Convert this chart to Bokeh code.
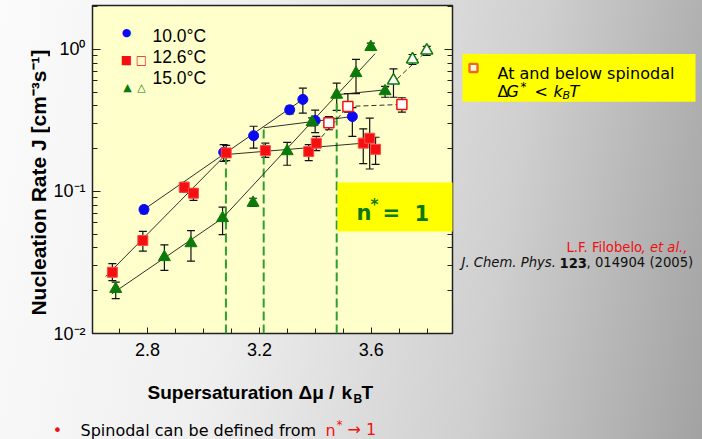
import math
from bokeh.plotting import figure
from bokeh.layouts import row, column
from bokeh.models import (Range1d, FixedTicker, LogAxis, Whisker, TeeHead,
                          ColumnDataSource, Label, BoxAnnotation)
from bokeh.embed import file_html
from bokeh.resources import INLINE

# ---------------- data ----------------
# 10.0 C  (blue circles)
b_x = [2.787, 3.072, 3.179, 3.308, 3.355, 3.399, 3.532]
b_J = [0.0747, 0.189, 0.247, 0.376, 0.445, 0.316, 0.337]
b_up = [0.0787, 0.214, 0.288, 0.399, 0.534, 0.374, 0.39]
b_lo = [0.0697, 0.163, 0.202, 0.352, 0.356, 0.26, 0.244]

# 12.6 C  (red squares, filled)
r_x = [2.674, 2.783, 2.931, 2.964, 3.081, 3.221, 3.376, 3.403, 3.571, 3.594, 3.615]
r_J = [0.027, 0.0452, 0.107, 0.0973, 0.187, 0.194, 0.191, 0.219, 0.219, 0.237, 0.198]
r_up = [0.031, 0.0523, 0.116, 0.105, 0.211, 0.219, 0.214, 0.244, 0.276, 0.328, 0.241]
r_lo = [0.0236, 0.038, 0.099, 0.0865, 0.165, 0.174, 0.165, 0.194, 0.157, 0.144, 0.155]
# 12.6 C  (red squares, open)
ro_x = [3.448, 3.516, 3.709]
ro_J = [0.305, 0.397, 0.41]
ro_up = [0.337, 0.488, 0.457]
ro_lo = [0.272, 0.362, 0.362]

# 15.0 C  (green triangles, filled)
g_x = [2.686, 2.860, 2.955, 3.068, 3.177, 3.299, 3.388, 3.476, 3.545, 3.598, 3.649]
g_J = [0.0206, 0.0345, 0.0432, 0.0649, 0.0832, 0.192, 0.308, 0.48, 0.681, 1.04, 0.508]
g_up = [0.023, 0.0421, 0.0531, 0.0775, 0.0896, 0.222, 0.33, 0.579, 0.851, 1.107, 0.549]
g_lo = [0.0176, 0.0278, 0.0323, 0.0497, 0.0786, 0.153, 0.29, 0.372, 0.488, 0.984, 0.461]
# 15.0 C  (green triangles, open)
go_x = [3.679, 3.747, 3.798]
go_J = [0.605, 0.851, 0.984]
go_up = [0.731, 0.922, 1.05]
go_lo = [0.461, 0.784, 0.907]

# fit lines
blue_fit_a_x, blue_fit_a_J = [2.787, 3.355], [0.0747, 0.445]
blue_fit_b_x, blue_fit_b_J = [3.215, 3.532], [0.281, 0.337]
red_fit_a_x, red_fit_a_J = [2.650, 3.080], [0.0252, 0.182]
red_fit_b_x, red_fit_b_J = [3.080, 3.609], [0.182, 0.222]
red_dash_x, red_dash_J = [3.403, 3.516, 3.709], [0.219, 0.397, 0.41]
green_fit_a_x, green_fit_a_J = [2.672, 3.068], [0.019, 0.0649]
green_fit_b_x, green_fit_b_J = [3.068, 3.613], [0.0649, 0.933]
green_fit_c_x, green_fit_c_J = [3.476, 3.651], [0.48, 0.52]
green_dash_x, green_dash_J = [3.651, 3.813], [0.52, 1.04]

# spinodal markers (vertical dashed lines)
sp_x = [3.080, 3.215, 3.476]
sp_top = [0.182, 0.284, 0.478]
sp_bottom = [0.01, 0.01, 0.01]

x_ticks = [2.8, 3.2, 3.6]
x_minor = [2.7, 2.8, 2.9, 3.0, 3.1, 3.2, 3.3, 3.4, 3.5, 3.6, 3.7, 3.8]
y_ticks = [0.01, 0.1, 1.0]
y_minor = [0.02, 0.03, 0.04, 0.05, 0.06, 0.07, 0.08, 0.09,
           0.2, 0.3, 0.4, 0.5, 0.6, 0.7, 0.8, 0.9, 2.0]
y_tick_labels = {0.01: "10\u207b\u00b2", 0.1: "10\u207b\u00b9", 1.0: "10\u2070"}

# ---------------- geometry ----------------
W, H = 702, 439
LEFT_W = 50            # strip holding the y title
FL, FR, FT, FB = 92, 452, 5, 333   # plot frame in page pixels
TOP_H = 365            # height of the row holding the chart
MAIN_W = (FR - LEFT_W) + 4
RIGHT_W = W - LEFT_W - MAIN_W
BOT_H = H - TOP_H

BLUE = "#0a0af2"
RED = "#f41010"
GREEN = "#0b7a0b"
DGREEN = "#2f9e2f"

# ---------------- main chart ----------------
p = figure(width=MAIN_W, height=TOP_H, output_backend="svg", toolbar_location=None,
           x_range=Range1d(2.603, 3.89), y_range=Range1d(0.01, 2.04),
           y_axis_type="log",
           min_border_left=FL - LEFT_W, min_border_right=MAIN_W - (FR - LEFT_W),
           min_border_top=FT, min_border_bottom=TOP_H - FB)
p.background_fill_color = "#ffffcc"
p.border_fill_color = None
p.outline_line_color = "#222222"
p.outline_line_width = 1.5
p.grid.visible = False

xa = p.xaxis[0]
xa.ticker = FixedTicker(ticks=x_ticks, minor_ticks=x_minor)
ya = p.yaxis[0]
ya.ticker = FixedTicker(ticks=y_ticks, minor_ticks=y_minor)
ya.major_label_overrides = y_tick_labels

for ax in (xa, ya):
    ax.axis_line_color = None
    ax.major_tick_out = 0
    ax.minor_tick_out = 0
    ax.major_tick_line_color = "#222222"
    ax.minor_tick_line_color = "#222222"
    ax.major_label_text_font = "Liberation Sans"
    ax.major_label_text_font_size = "18px"
    ax.major_label_text_color = "black"
xa.major_tick_in = 6
xa.minor_tick_in = 5
xa.major_label_standoff = 9
ya.major_tick_in = 8
ya.minor_tick_in = 5
ya.major_label_standoff = 7

ra = LogAxis(ticker=FixedTicker(ticks=y_ticks, minor_ticks=y_minor),
             major_label_text_color=None, major_label_text_font_size="1px",
             major_label_standoff=0,
             axis_line_color=None, major_tick_out=0, minor_tick_out=0,
             major_tick_in=8, minor_tick_in=5,
             major_tick_line_color="#222222", minor_tick_line_color="#222222")
p.add_layout(ra, "right")

# spinodal dashed lines
p.segment(x0=sp_x, y0=sp_bottom, x1=sp_x, y1=sp_top, line_color=DGREEN,
          line_width=2, line_dash="9 4")

# fit lines
for xs, ys, dash in [(blue_fit_a_x, blue_fit_a_J, "solid"), (blue_fit_b_x, blue_fit_b_J, "solid"),
                     (red_fit_a_x, red_fit_a_J, "solid"), (red_fit_b_x, red_fit_b_J, "solid"),
                     (red_dash_x, red_dash_J, "5 3"),
                     (green_fit_a_x, green_fit_a_J, "solid"), (green_fit_b_x, green_fit_b_J, "solid"),
                     (green_fit_c_x, green_fit_c_J, "solid"), (green_dash_x, green_dash_J, "5 3")]:
    p.line(xs, ys, line_color="#1a1a1a", line_width=0.9, line_dash=dash)

# error bars
def bars(xs, up, lo):
    src = ColumnDataSource(dict(x=xs, up=up, lo=lo))
    w = Whisker(source=src, base="x", upper="up", lower="lo", dimension="height",
                line_color="#111111", line_width=1.2,
                upper_head=TeeHead(size=8, line_color="#111111", line_width=1.2),
                lower_head=TeeHead(size=8, line_color="#111111", line_width=1.2))
    w.level = "underlay"
    p.add_layout(w)

bars(b_x, b_up, b_lo)
bars(r_x, r_up, r_lo)
bars(ro_x, ro_up, ro_lo)
bars(g_x, g_up, g_lo)
bars(go_x, go_up, go_lo)

# markers
p.scatter(b_x, b_J, marker="circle", size=10, fill_color=BLUE, line_color=BLUE)
p.scatter(r_x, r_J, marker="square", size=10, fill_color=RED, line_color="#ff4a4a", line_width=1)
p.scatter(ro_x, ro_J, marker="square", size=10, fill_color="white", line_color=RED, line_width=1.5)
p.scatter(g_x, g_J, marker="triangle", size=12, fill_color=GREEN, line_color=GREEN)
p.scatter(go_x, go_J, marker="triangle", size=12, fill_color="white", line_color=GREEN, line_width=1.5)

# annotations inside the frame (page pixels -> frame screen units)
def mlab(text, cx, cy, size, color="black", font="DejaVu Sans", style="normal",
         align="left", baseline="alphabetic"):
    p.add_layout(Label(x=cx - FL, y=FB - cy, x_units="screen", y_units="screen",
                       text=text, text_font=font, text_font_size=f"{size}px",
                       text_color=color, text_font_style=style, text_align=align,
                       text_baseline=baseline))

# legend
mlab("\u25cf", 126, 32, 11, BLUE, align="center", baseline="middle")
mlab("\u25a0", 126, 59, 12, RED, align="center", baseline="middle")
mlab("\u25a1", 141, 59, 12, RED, align="center", baseline="middle")
mlab("\u25b2", 127, 87, 11, GREEN, align="center", baseline="middle")
mlab("\u25b3", 141, 87, 11, GREEN, align="center", baseline="middle")
mlab("10.0\u00b0C", 152, 35, 17.5, font="Liberation Sans")
mlab("12.6\u00b0C", 152, 56, 17.5, font="Liberation Sans")
mlab("15.0\u00b0C", 152, 77, 17.5, font="Liberation Sans")

# n* = 1 box
p.add_layout(BoxAnnotation(left=337 - FL, right=FR - FL + 2, top=FB - 182, bottom=FB - 231,
                           left_units="screen", right_units="screen",
                           top_units="screen", bottom_units="screen",
                           fill_color="#ffff00", fill_alpha=1.0, line_color=None))
mlab("n", 356, 212, 21, GREEN, style="bold")
mlab("*", 370, 204, 15, GREEN, style="bold")
mlab("=", 382, 212, 21, GREEN, style="bold")
mlab("1", 414, 212, 21, GREEN, style="bold")

# ---------------- text strips (ranges = page pixels) ----------------
def strip(x0, x1, y0, y1):
    f = figure(width=x1 - x0, height=y1 - y0, output_backend="svg", toolbar_location=None,
               x_range=Range1d(x0, x1), y_range=Range1d(y1, y0),
               x_axis_type=None, y_axis_type=None, min_border=0)
    f.background_fill_color = None
    f.border_fill_color = None
    f.outline_line_color = None
    f.grid.visible = False
    return f

def lab(f, text, cx, cy, size, color="black", font="DejaVu Sans", style="normal",
        align="left", baseline="alphabetic", angle=0.0):
    f.add_layout(Label(x=cx, y=cy, text=text, text_font=font, text_font_size=f"{size}px",
                       text_color=color, text_font_style=style, text_align=align,
                       text_baseline=baseline, angle=angle))

def box(f, x0, y0, x1, y1, fill, line=None, lw=1.0):
    f.add_layout(BoxAnnotation(left=x0, right=x1, top=y0, bottom=y1,
                               fill_color=fill, fill_alpha=1.0,
                               line_color=line, line_alpha=1.0, line_width=lw))

# left strip: y title
fl = strip(0, LEFT_W, 0, TOP_H)
lab(fl, "Nucleation Rate J [cm\u207b\u00b3s\u207b\u00b9]", 38, 197, 21, font="Liberation Sans",
    style="bold", align="center", baseline="middle", angle=math.pi / 2)

# right strip: note box + citation
fr = strip(LEFT_W + MAIN_W, W, 0, TOP_H)
box(fr, 462, 54, 695, 107, "#ffff00")
box(fr, 469, 65, 477, 74, "#fff6e6", "#ee6a1a", 2.4)
lab(fr, "At and below spinodal", 497, 76, 16)
lab(fr, "\u0394", 497, 96, 16)
lab(fr, "G", 506, 96, 16, style="italic")
lab(fr, "*", 520, 91, 12, style="italic")
lab(fr, "<", 534, 96, 16)
lab(fr, "k", 553, 96, 16, style="italic")
lab(fr, "B", 562, 100, 11, style="italic")
lab(fr, "T", 569, 96, 16, style="italic")
lab(fr, "L.F. Filobelo", 566, 269, 13.2, "#ee1111")
lab(fr, ", et al.,", 641, 269, 13.2, "#ee1111", style="italic")
lab(fr, "J. Chem. Phys.", 461, 286, 13.2, "#111111", style="italic")
lab(fr, "123", 559, 286, 13.2, "#111111", style="bold")
lab(fr, ", 014904 (2005)", 586, 286, 13.2, "#111111")

# bottom strip: x title + bullet line
fb = strip(0, W, TOP_H, H)
lab(fb, "Supersaturation \u0394\u03bc / ", 147, 392, 19, font="Liberation Sans", style="bold")
lab(fb, "k", 341, 392, 19, font="Liberation Sans", style="bold")
lab(fb, "B", 353, 398, 12, font="Liberation Sans", style="bold")
lab(fb, "T", 361, 392, 19, font="Liberation Sans", style="bold")
lab(fb, "\u2022", 57, 430, 16, "#ee1111", align="center")
lab(fb, "Spinodal can be defined from ", 80, 430, 16)
lab(fb, "n", 325, 430, 16, "#ee1111")
lab(fb, "*", 336, 424, 12, "#ee1111")
lab(fb, "\u2192 1", 347, 429, 16, "#ee1111")

page = column(row(fl, p, fr, spacing=0), fb, spacing=0,
              styles={"background": "linear-gradient(100deg, #fbfbfb 0%, #efefef 35%, #cfcfcf 70%, #a2a2a2 100%)"})

open("out.html", "w").write(file_html(page, INLINE))
